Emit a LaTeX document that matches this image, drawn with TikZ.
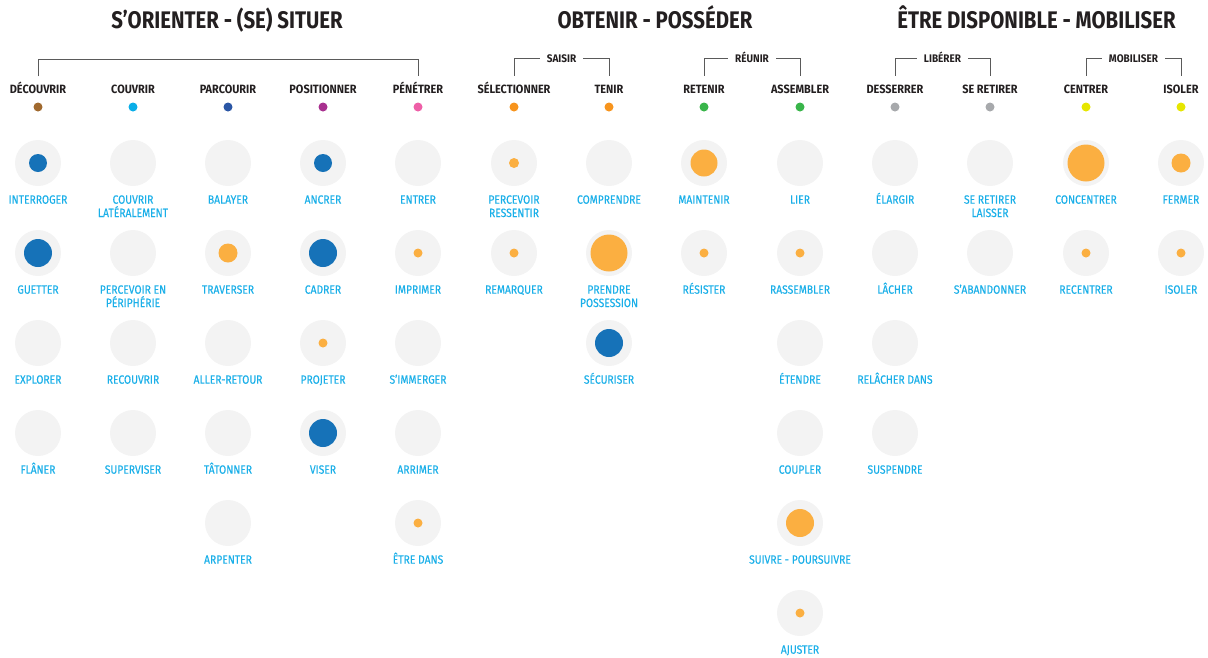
\documentclass[tikz,border=0pt]{standalone}
\usepackage{fontspec}
\setmainfont{Fira Sans}
\newfontfamily\headfont[FakeStretch=0.85]{Fira Sans}
\newfontfamily\catfont[FakeStretch=0.91]{Fira Sans}
\newfontfamily\verbfont[FakeStretch=0.86, FakeBold=0.3]{Fira Sans}
\usepackage{xcolor}
\usetikzlibrary{positioning, calc}
\definecolor{discgrey}{HTML}{F3F3F3}
\definecolor{dotblue}{HTML}{1672B8}
\definecolor{dotorange}{HTML}{FBAF41}
\definecolor{verbcyan}{HTML}{1AAFE8}
\definecolor{inkdark}{HTML}{231F20}
\definecolor{linegrey}{HTML}{5A5A5A}
\definecolor{catbrown}{HTML}{A0692E}
\definecolor{catcyan}{HTML}{0AAEE8}
\definecolor{catblue}{HTML}{2A56A5}
\definecolor{catmagenta}{HTML}{A8308F}
\definecolor{catpink}{HTML}{EE5FA7}
\definecolor{catorange}{HTML}{F7941D}
\definecolor{catgreen}{HTML}{39B54A}
\definecolor{catgrey}{HTML}{A7A9AC}
\definecolor{catyellow}{HTML}{E6E600}
\tikzset{
  header/.style={font=\headfont\bfseries\fontsize{24}{26}\selectfont, text=inkdark,
                 inner sep=0pt, anchor=base},
  catlabel/.style={font=\catfont\bfseries\fontsize{12}{14}\selectfont, text=inkdark,
                   inner sep=0pt, anchor=base, text height=9pt, text depth=0pt},
  grouplabel/.style={font=\catfont\bfseries\fontsize{11}{13}\selectfont, text=inkdark,
                     inner sep=0pt, anchor=base, text height=8pt, text depth=0pt},
  catdot/.style={circle, inner sep=0pt, minimum size=9pt},
  bgdisc/.style={circle, fill=discgrey, inner sep=0pt, minimum size=46pt},
  verbdot/.style={circle, inner sep=0pt},
  verblabel/.style={font=\verbfont\fontsize{12}{13.3}\selectfont, text=verbcyan,
                    align=center, inner sep=0pt, anchor=north},
  bracket/.style={draw=linegrey, line width=0.8pt}
}
\begin{document}
\begin{tikzpicture}[x=1pt, y=-1pt]
  \useasboundingbox (0,0) rectangle (1208,657);

  %% Headers
  \node[header] (orienter) at (227,28.5)    {S’ORIENTER - (SE) SITUER};
  \node[header] (obtenir)  at (655,28.5)    {OBTENIR - POSSÉDER};
  \node[header] (etre)     at (1036.5,28.5) {ÊTRE DISPONIBLE - MOBILISER};

  %% Categories: name/x/text/colour
  \foreach \n/\x/\t/\c in {decouvrir/38/DÉCOUVRIR/catbrown, couvrir/133/COUVRIR/catcyan,
      parcourir/228/PARCOURIR/catblue, positionner/323/POSITIONNER/catmagenta,
      penetrer/418/PÉNÉTRER/catpink, selectionner/514/SÉLECTIONNER/catorange,
      tenir/609/TENIR/catorange, retenir/704/RETENIR/catgreen,
      assembler/800/ASSEMBLER/catgreen, desserrer/895/DESSERRER/catgrey,
      seretirer/990/SE RETIRER/catgrey, centrer/1086/CENTRER/catyellow,
      isoler/1181/ISOLER/catyellow} {
    \node[catlabel] (\n) at (\x,93) {\t};
    \node[catdot, fill=\c] (\n-dot) at (\x,107) {};
  }

  %% Brackets
  \draw[bracket] ([yshift=7.5pt]decouvrir.north) -- ([yshift=24pt]decouvrir.north)
    -| ([yshift=7.5pt]penetrer.north);
  \foreach \g/\x/\t/\a/\b in {saisir/561.5/SAISIR/selectionner/tenir,
      reunir/752/RÉUNIR/retenir/assembler, liberer/942.5/LIBÉRER/desserrer/seretirer,
      mobiliser/1133.5/MOBILISER/centrer/isoler} {
    \node[grouplabel] (\g) at (\x,62.7) {\t};
    \draw[bracket] ([xshift=-7pt]\g.west) -| ([yshift=7.5pt]\a.north);
    \draw[bracket] ([xshift=7pt]\g.east) -| ([yshift=7.5pt]\b.north);
  }

  %% Verbs: column/x/{row/text/dot colour/dot size}
  \foreach \n/\x/\items in {
      decouvrir/38/{1/INTERROGER/dotblue/18, 2/GUETTER/dotblue/28,
                    3/EXPLORER/dotblue/0, 4/FLÂNER/dotblue/0},
      couvrir/133/{1/{COUVRIR\\LATÉRALEMENT}/dotblue/0, 2/{PERCEVOIR EN\\PÉRIPHÉRIE}/dotblue/0,
                   3/RECOUVRIR/dotblue/0, 4/SUPERVISER/dotblue/0},
      parcourir/228/{1/BALAYER/dotblue/0, 2/TRAVERSER/dotorange/19, 3/ALLER-RETOUR/dotblue/0,
                     4/TÂTONNER/dotblue/0, 5/ARPENTER/dotblue/0},
      positionner/323/{1/ANCRER/dotblue/18, 2/CADRER/dotblue/28,
                       3/PROJETER/dotorange/9, 4/VISER/dotblue/28},
      penetrer/418/{1/ENTRER/dotblue/0, 2/IMPRIMER/dotorange/9, 3/S’IMMERGER/dotblue/0,
                    4/ARRIMER/dotblue/0, 5/ÊTRE DANS/dotorange/9},
      selectionner/514/{1/{PERCEVOIR\\RESSENTIR}/dotorange/10, 2/REMARQUER/dotorange/9},
      tenir/609/{1/COMPRENDRE/dotblue/0, 2/{PRENDRE\\POSSESSION}/dotorange/37,
                 3/SÉCURISER/dotblue/28},
      retenir/704/{1/MAINTENIR/dotorange/27, 2/RÉSISTER/dotorange/9},
      assembler/800/{1/LIER/dotblue/0, 2/RASSEMBLER/dotorange/9, 3/ÉTENDRE/dotblue/0,
                     4/COUPLER/dotblue/0, 5/SUIVRE - POURSUIVRE/dotorange/28,
                     6/AJUSTER/dotorange/9},
      desserrer/895/{1/ÉLARGIR/dotblue/0, 2/LÂCHER/dotblue/0, 3/RELÂCHER DANS/dotblue/0,
                     4/SUSPENDRE/dotblue/0},
      seretirer/990/{1/{SE RETIRER\\LAISSER}/dotblue/0, 2/S’ABANDONNER/dotblue/0},
      centrer/1086/{1/CONCENTRER/dotorange/37, 2/RECENTRER/dotorange/9},
      isoler/1181/{1/FERMER/dotorange/19, 2/ISOLER/dotorange/9}} {
    \foreach \r/\t/\c/\s in \items {
      \node[bgdisc] (\n-\r) at (\x,{163+90*(\r-1)}) {};
      \ifnum\s>0
        \node[verbdot, fill=\c, minimum size=\s pt] (\n-\r-dot) at (\n-\r) {};
      \fi
      \node[verblabel] (\n-\r-label) at (\x,{192.5+90*(\r-1)}) {\rule{0pt}{11pt}\t};
    }
  }
\end{tikzpicture}
\end{document}
